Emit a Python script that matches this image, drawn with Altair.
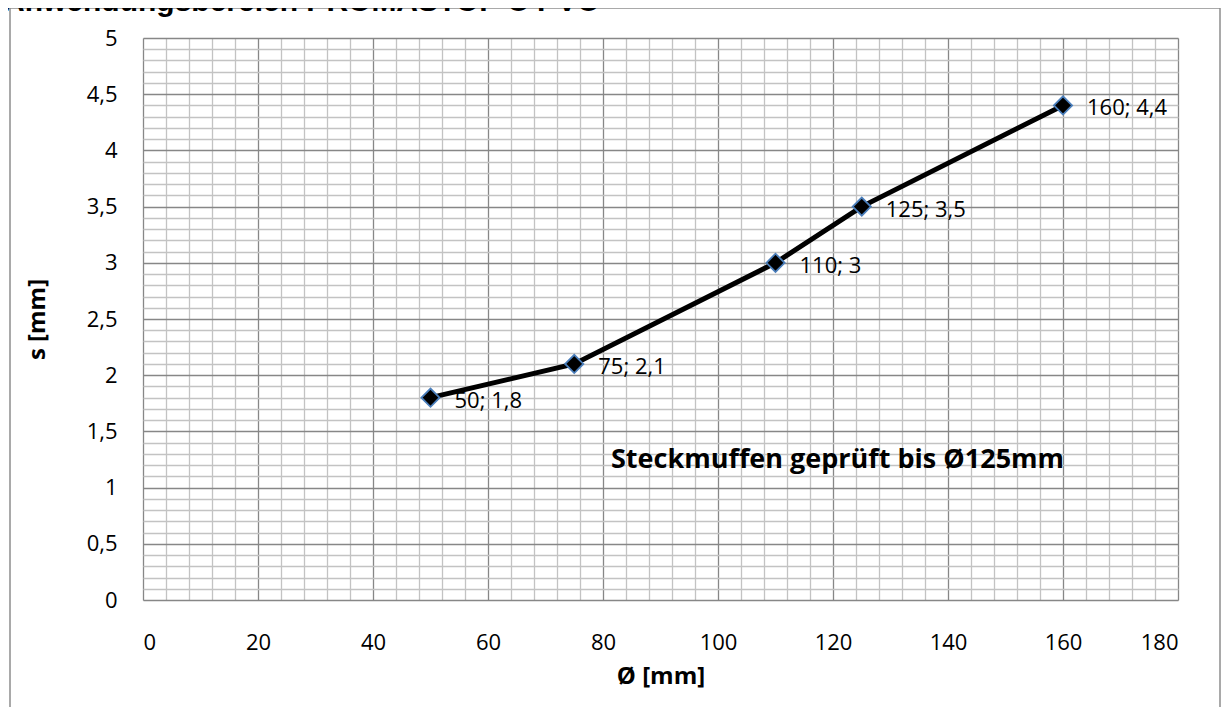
import altair as alt
import pandas as pd

# data
diameter = [50, 75, 110, 125, 160]
wall_s = [1.8, 2.1, 3.0, 3.5, 4.4]
x_ticks = [0, 20, 40, 60, 80, 100, 120, 140, 160, 180]
y_ticks = [0, 0.5, 1, 1.5, 2, 2.5, 3, 3.5, 4, 4.5, 5]
title_text = "Anwendungsbereich PROMASTOP C PVC"
note_text = "Steckmuffen geprüft bis Ø125mm"
x_title = "Ø [mm]"
y_title = "s [mm]"

df = pd.DataFrame({"d": diameter, "s": wall_s})

x_grid = [i * 4 for i in range(46)]
y_grid = [round(i * 0.1, 1) for i in range(51)]

FONT = "Open Sans"
MAJOR = "#878787"
MINOR = "#c3c3c3"

W, H = 1035, 562

xscale = alt.Scale(domain=[0, 180], nice=False, zero=False)
yscale = alt.Scale(domain=[0, 5], nice=False)

x_axis = alt.Axis(
    values=x_grid,
    labelExpr="datum.value % 20 === 0 ? datum.label : ''",
    labelOverlap=False,
    grid=True,
    gridColor={"condition": {"test": "datum.value % 20 === 0", "value": MAJOR}, "value": MINOR},
    gridWidth=1.3,
    ticks=False,
    domain=False,
    labelPadding=32,
    labelFont=FONT,
    labelFontSize=22,
    labelColor="black",
    title=x_title,
    titleFont=FONT,
    titleFontSize=24,
    titleFontWeight="bold",
    titleColor="black",
    titleBaseline="middle",
    titleY=76,
)
y_axis = alt.Axis(
    values=y_grid,
    labelExpr="(round(datum.value*10) % 5 === 0) ? replace(toString(datum.value), '.', ',') : ''",
    labelOverlap=False,
    grid=True,
    gridColor={"condition": {"test": "round(datum.value*10) % 5 === 0", "value": MAJOR}, "value": MINOR},
    gridWidth=1.3,
    ticks=False,
    domain=False,
    labelPadding=26,
    labelFont=FONT,
    labelFontSize=22,
    labelColor="black",
    title=y_title,
    titleFont=FONT,
    titleFontSize=24,
    titleFontWeight="bold",
    titleColor="black",
    titleAngle=-90,
    titleBaseline="middle",
    titleX=-106,
    titleY=281,
)

base = alt.Chart(df).encode(
    x=alt.X("d:Q", scale=xscale, axis=x_axis),
    y=alt.Y("s:Q", scale=yscale, axis=y_axis),
)

line = base.mark_line(color="black", strokeWidth=5)
points = base.mark_point(
    shape="diamond", size=330, filled=True, fill="black", stroke="#4a7ebb", strokeWidth=1.8, opacity=1
)
labels = base.transform_calculate(
    lab="datum.d + '; ' + replace(toString(datum.s), '.', ',')"
).mark_text(
    align="left", baseline="middle", dx=24, dy=3, font=FONT, fontSize=22, color="black"
).encode(text="lab:N")

one = alt.Data(values=[{"a": 1}])
note = alt.Chart(one).mark_text(
    align="left", baseline="middle", font=FONT, fontSize=27, fontWeight="bold", color="black"
).encode(x=alt.value(468), y=alt.value(422), text=alt.value(note_text))

FR = dict(color="#8c8c8c", strokeWidth=1.5)
frame_top = alt.Chart(one).mark_rule(**FR).encode(
    x=alt.value(-133), x2=alt.value(1077), y=alt.value(-30))
frame_left = alt.Chart(one).mark_rule(**FR).encode(
    x=alt.value(-133), y=alt.value(-30), y2=alt.value(669))
frame_right = alt.Chart(one).mark_rule(**FR).encode(
    x=alt.value(1077), y=alt.value(-30), y2=alt.value(669))

title = alt.Chart(one).mark_text(
    align="left", baseline="alphabetic", font="Liberation Sans", fontSize=30, fontWeight="bold", color="black"
).encode(x=alt.value(-140), y=alt.value(-27), text=alt.value(title_text))

chart = alt.layer(frame_top, frame_left, frame_right, title, line, points, labels, note).properties(
    width=W, height=H,
    padding={"left": 135, "top": 30, "right": 43, "bottom": 107},
    autosize=alt.AutoSizeParams(type="none"),
).configure_view(stroke=MAJOR, strokeWidth=1.3).configure(background="white")

chart.save("out.html", embed_options={"renderer": "svg", "actions": False})
